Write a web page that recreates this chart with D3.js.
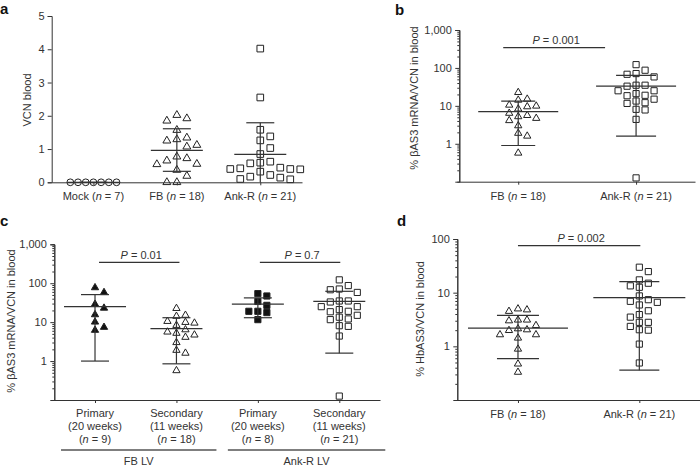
<!DOCTYPE html>
<html>
<head>
<meta charset="utf-8">
<script src="https://cdn.jsdelivr.net/npm/d3@7"></script>
<style>
  html, body { margin: 0; padding: 0; background: #fff; }
  svg { display: block; }
</style>
</head>
<body>
<svg id="chart" width="700" height="466"></svg>
<script>
// ---------------- DATA ----------------
// Panel a: VCN blood (linear)
const aCategories = ["Mock", "FB", "Ank-R"];
const aCounts = [7, 18, 21];
const aMock = [0, 0, 0, 0, 0, 0, 0];
const aFB = [2.02, 1.92, 1.85, 1.57, 1.34, 1.29, 1.25, 1.12, 1.07, 0.77, 0.72, 0.65, 0.55, 0.54, 0.37, 0.19, 0.0, 0.0];
const aAnk = [4.02, 2.55, 1.58, 1.38, 1.26, 1.03, 0.85, 0.62, 0.59, 0.57, 0.44, 0.42, 0.40, 0.40, 0.39, 0.32, 0.22, 0.17, 0.14, 0.10, 0.09];
const aMean = [0, 0.96, 0.84];
const aSdLow = [0, 0.33, -0.1];
const aSdHigh = [0, 1.61, 1.79];
const aTicks = [0, 1, 2, 3, 4, 5];

// Panel b: % βAS3 mRNA/VCN in blood (log)
const bCategories = ["FB", "Ank-R"];
const bCounts = [18, 21];
const bFB = [22.6, 15.1, 14.2, 10.5, 9.9, 9.5, 8.3, 6.4, 5.6, 5.2, 4.7, 4.1, 3.0, 1.9, 1.6, 0.57];
const bAnk = [122, 87, 71, 68, 58, 35, 35, 33, 25, 25, 21, 19, 18.5, 15, 13.4, 12.1, 11.6, 8.1, 7.8, 4.4, 0.126];
const bMean = [7.0, 33];
const bSdLow = [0.9, 1.6];
const bSdHigh = [13.4, 64];
const bP = "0.001";

// Panel c: primary vs secondary (log)
const cCategoryLine1 = ["Primary", "Secondary", "Primary", "Secondary"];
const cCategoryLine2 = ["(20 weeks)", "(11 weeks)", "(20 weeks)", "(11 weeks)"];
const cCounts = [9, 18, 8, 21];
const cGroups = ["FB LV", "Ank-R LV"];
const cPrimFB = [77, 58, 29, 23, 15.6, 10.1, 7.4, 6.2];
const cSecFB = bFB;
const cPrimAnk = [54, 47, 34, 27, 19, 19, 17.6, 11.6];
const cSecAnk = bAnk;
const cMean = [25, 6.8, 29, 34];
const cSdLow = [1.0, 0.85, 13, 1.6];
const cSdHigh = [51, 13, 42, 62];
const cP = ["0.01", "0.7"];

// Panel d: % HbAS3/VCN in blood (log)
const dCategories = ["FB", "Ank-R"];
const dCounts = [18, 21];
const dFB = [5.0, 4.8, 4.5, 3.1, 3.1, 3.0, 2.45, 2.13, 2.04, 1.98, 1.65, 1.65, 1.43, 0.89, 0.47, 0.33];
const dAnk = [29.8, 24.7, 17.3, 15, 13.4, 12.6, 8.7, 7.4, 6.9, 6.6, 5.9, 4.6, 3.9, 3.5, 2.8, 2.8, 2.35, 2.04, 2.0, 1.1, 0.49];
const dMean = [2.19, 8.1];
const dSdLow = [0.59, 0.36];
const dSdHigh = [3.77, 16.1];
const dP = "0.002";

const logMajor = [1, 10, 100, 1000];
const logLabels = ["1", "10", "100", "1,000"];

// ---------------- DRAWING ----------------
const FONT = "'Liberation Sans', Arial, Helvetica, sans-serif";
const INK = "#333";
const svg = d3.select("#chart").style("font-family", FONT);

function styleAxis(g) {
  g.select(".domain").attr("stroke", INK).attr("stroke-width", 1);
  g.selectAll(".tick line").attr("stroke", INK).attr("stroke-width", 1);
  g.selectAll(".tick text").attr("fill", INK).style("font-size", "11px").style("font-family", FONT);
}

function swarm(values, y, cx, sep, sepY, h) {
  const order = values.map((v, i) => i).sort((a, b) => values[b] - values[a]);
  const placed = [];
  const res = new Array(values.length);
  for (const i of order) {
    const py = y(values[i]);
    let off = 0;
    for (let k = 0; k < 60; k++) {
      const m = Math.ceil(k / 2);
      off = (k % 2 === 1 ? 1 : -1) * m * h;
      if (k === 0) off = 0;
      const hit = placed.some(p => Math.abs(p.x - off) < sep - 0.01 && Math.abs(p.y - py) < sepY);
      if (!hit) break;
    }
    placed.push({ x: off, y: py });
    res[i] = { x: cx + off, y: py };
  }
  return res;
}

function marker(shape, size) {
  const t = shape === "tri" ? d3.symbolTriangle : shape === "sq" ? d3.symbolSquare : d3.symbolCircle;
  return d3.symbol().type(t).size(size)();
}

function drawGroup(g, vals, y, cx, opt) {
  const pts = swarm(vals, y, cx, opt.sep, opt.sepY, opt.h);
  g.append("g").selectAll("path").data(pts).join("path")
    .attr("d", marker(opt.shape, opt.size))
    .attr("transform", d => `translate(${d.x},${d.y})`)
    .attr("fill", opt.filled ? "#111" : "#fff")
    .attr("stroke", "#222")
    .attr("stroke-width", 1);
}

function drawErr(g, y, cx, mean, lo, hi, mw, cw, yBottom) {
  const eg = g.append("g").attr("stroke", INK).attr("stroke-width", 1.2).attr("fill", "none");
  const yl = Math.min(y(Math.max(lo, y.domain()[0])), yBottom);
  const yh = y(hi);
  eg.append("line").attr("x1", cx).attr("x2", cx).attr("y1", yl).attr("y2", yh);
  eg.append("line").attr("x1", cx - mw).attr("x2", cx + mw).attr("y1", y(mean)).attr("y2", y(mean));
  eg.append("line").attr("x1", cx - cw).attr("x2", cx + cw).attr("y1", yh).attr("y2", yh);
  if (lo > y.domain()[0]) {
    eg.append("line").attr("x1", cx - cw).attr("x2", cx + cw).attr("y1", yl).attr("y2", yl);
  }
}

function catLabel(g, x, yb, name, n) {
  const t = g.append("text").attr("x", x).attr("y", yb).attr("text-anchor", "middle")
    .attr("fill", INK).style("font-size", "11px");
  t.append("tspan").text(name + " (");
  t.append("tspan").style("font-style", "italic").text("n");
  t.append("tspan").text(" = " + n + ")");
}

function pBar(g, x1, x2, yb, p) {
  g.append("line").attr("x1", x1).attr("x2", x2).attr("y1", yb).attr("y2", yb)
    .attr("stroke", INK).attr("stroke-width", 1.2);
  const t = g.append("text").attr("x", (x1 + x2) / 2 + 2).attr("y", yb - 3.5).attr("text-anchor", "middle")
    .attr("fill", INK).style("font-size", "11px");
  t.append("tspan").style("font-style", "italic").text("P");
  t.append("tspan").text(" = " + p);
}

function yTitle(g, x, yc, txt) {
  g.append("text").attr("transform", `translate(${x},${yc}) rotate(-90)`)
    .attr("text-anchor", "middle").attr("fill", INK).style("font-size", "11px").text(txt);
}

function panelLetter(x, yb, l) {
  svg.append("text").attr("x", x).attr("y", yb).attr("fill", "#111")
    .style("font-size", "15px").style("font-weight", "bold").text(l);
}

function logAxis(g, y, x0, major, labels) {
  const [lo, hi] = y.domain();
  const minor = [];
  for (let e = Math.round(Math.log10(lo)); e < Math.round(Math.log10(hi)); e++) {
    for (let m = 2; m <= 9; m++) minor.push(m * Math.pow(10, e));
  }
  g.append("g").attr("transform", `translate(${x0},0)`)
    .call(d3.axisLeft(y).tickValues(minor).tickSize(2).tickFormat(""))
    .call(styleAxis);
  g.append("g").attr("transform", `translate(${x0},0)`)
    .call(d3.axisLeft(y).tickValues(major).tickSize(4).tickPadding(3.5)
      .tickFormat((d, i) => labels[i]))
    .call(styleAxis);
}

function xAxis(g, x, yAxisPos) {
  g.append("g").attr("transform", `translate(0,${yAxisPos})`)
    .call(d3.axisBottom(x).tickSize(3).tickSizeOuter(0).tickFormat(""))
    .call(styleAxis);
}

// ---------- Panel a ----------
{
  const g = svg.append("g");
  const x = d3.scalePoint().domain(aCategories).range([51.7, 302]).padding(0.5);
  const y = d3.scaleLinear().domain([0, 5]).range([182.3, 16]);
  const groups = [aMock, aFB, aAnk];
  const shapes = ["circ", "tri", "sq"];
  const sizes = [36, 27, 44];
  groups.forEach((vals, i) => {
    const cx = x(aCategories[i]);
    const sep = i === 0 ? 7.7 : 10;
    drawGroup(g, vals, y, cx, { shape: shapes[i], size: sizes[i], sep: sep, sepY: 8, h: sep / 2, filled: false });
  });
  xAxis(g, x, 182.3);
  g.append("g").attr("transform", "translate(51.7,0)")
    .call(d3.axisLeft(y).tickValues(aTicks).tickSize(4).tickPadding(3).tickFormat(d3.format("d")))
    .call(styleAxis);
  groups.forEach((vals, i) => {
    drawErr(g, y, x(aCategories[i]), aMean[i], aSdLow[i], aSdHigh[i], 26, 14, 182.3);
  });
  aCategories.forEach((c, i) => catLabel(g, x(c), 200, c, aCounts[i]));
  yTitle(g, 31, 100, "VCN blood");
  panelLetter(0, 14, "a");
}

// ---------- Panel b ----------
{
  const g = svg.append("g");
  const x = d3.scalePoint().domain(bCategories).range([459.3, 695]).padding(0.5);
  const y = d3.scaleLog().domain([0.1, 1000]).range([181.7, 30]);
  drawGroup(g, bFB, y, x("FB"), { shape: "tri", size: 23, sep: 9, sepY: 7, h: 4.5 });
  drawGroup(g, bAnk, y, x("Ank-R"), { shape: "sq", size: 38, sep: 9, sepY: 7, h: 4.5 });
  xAxis(g, x, 181.7);
  logAxis(g, y, 459.3, logMajor, logLabels);
  drawErr(g, y, x("FB"), bMean[0], bSdLow[0], bSdHigh[0], 40, 17, 181.7);
  drawErr(g, y, x("Ank-R"), bMean[1], bSdLow[1], bSdHigh[1], 40, 20, 181.7);
  bCategories.forEach((c, i) => catLabel(g, x(c), 200, c, bCounts[i]));
  pBar(g, x("FB") - 15, x("Ank-R") - 31, 47.7, bP);
  yTitle(g, 418, 98, "% βAS3 mRNA/VCN in blood");
  panelLetter(395, 15, "b");
}

// ---------- Panel c ----------
{
  const g = svg.append("g");
  const idx = [0, 1, 2, 3];
  const x = d3.scalePoint().domain(idx).range([54.3, 380]).padding(0.5);
  const y = d3.scaleLog().domain([0.1, 1000]).range([400, 244.3]);
  const groups = [cPrimFB, cSecFB, cPrimAnk, cSecAnk];
  const shapes = ["tri", "tri", "sq", "sq"];
  const filled = [true, false, true, false];
  const sizes = [23, 23, 38, 38];
  groups.forEach((vals, i) => {
    drawGroup(g, vals, y, x(i), { shape: shapes[i], size: sizes[i], sep: 9, sepY: 7, h: 4.5, filled: filled[i] });
  });
  xAxis(g, x, 400);
  logAxis(g, y, 54.3, logMajor, logLabels);
  groups.forEach((vals, i) => {
    drawErr(g, y, x(i), cMean[i], cSdLow[i], cSdHigh[i], i === 0 ? 31 : 26, 14, 400);
  });
  idx.forEach(i => {
    const cx = x(i);
    g.append("text").attr("x", cx).attr("y", 417).attr("text-anchor", "middle").attr("fill", INK)
      .style("font-size", "11px").text(cCategoryLine1[i]);
    g.append("text").attr("x", cx).attr("y", 430).attr("text-anchor", "middle").attr("fill", INK)
      .style("font-size", "11px").text(cCategoryLine2[i]);
    const t = g.append("text").attr("x", cx).attr("y", 443).attr("text-anchor", "middle").attr("fill", INK)
      .style("font-size", "11px");
    t.append("tspan").text("(");
    t.append("tspan").style("font-style", "italic").text("n");
    t.append("tspan").text(" = " + cCounts[i] + ")");
  });
  // group underlines
  const gx = [[x(0) - 34, x(1) + 40], [x(2) - 30, x(3) + 46]];
  cGroups.forEach((name, k) => {
    g.append("line").attr("x1", gx[k][0]).attr("x2", gx[k][1]).attr("y1", 450).attr("y2", 450)
      .attr("stroke", "#555").attr("stroke-width", 1.5);
    g.append("text").attr("x", (gx[k][0] + gx[k][1]) / 2).attr("y", 465).attr("text-anchor", "middle")
      .attr("fill", INK).style("font-size", "11px").text(name);
  });
  pBar(g, x(0) + 4, x(1) + 3, 262.3, cP[0]);
  pBar(g, x(2) + 2, x(3) + 1, 262.3, cP[1]);
  yTitle(g, 15, 321, "% βAS3 mRNA/VCN in blood");
  panelLetter(0, 226, "c");
}

// ---------- Panel d ----------
{
  const g = svg.append("g");
  const x = d3.scalePoint().domain(dCategories).range([457.3, 700]).padding(0.5);
  const y = d3.scaleLog().domain([0.1, 100]).range([400, 239]);
  drawGroup(g, dFB, y, x("FB"), { shape: "tri", size: 23, sep: 9, sepY: 7, h: 4.5 });
  drawGroup(g, dAnk, y, x("Ank-R"), { shape: "sq", size: 38, sep: 9, sepY: 7, h: 4.5 });
  xAxis(g, x, 400);
  logAxis(g, y, 457.3, [1, 10, 100], ["1", "10", "100"]);
  drawErr(g, y, x("FB"), dMean[0], dSdLow[0], dSdHigh[0], 50, 21, 400);
  drawErr(g, y, x("Ank-R"), dMean[1], dSdLow[1], dSdHigh[1], 46, 20, 400);
  dCategories.forEach((c, i) => catLabel(g, x(c), 418, c, dCounts[i]));
  pBar(g, x("FB"), x("Ank-R") + 1, 245.7, dP);
  yTitle(g, 424, 319, "% HbAS3/VCN in blood");
  panelLetter(397, 226, "d");
}
</script>
</body>
</html>
